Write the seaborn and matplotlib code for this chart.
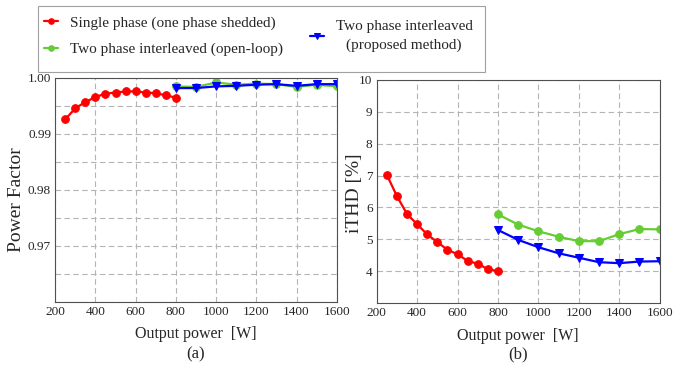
import matplotlib
matplotlib.use("Agg")
import matplotlib.pyplot as plt
from matplotlib.patches import Rectangle
from matplotlib.ticker import MultipleLocator
import seaborn as sns
import pandas as pd


# ------------------------------------------------
# DATA
# ------------------------------------------------

single_power = [250, 300, 350, 400, 450, 500, 550, 600, 650, 700, 750, 800]
two_power = [800, 900, 1000, 1100, 1200, 1300, 1400, 1500, 1600]

single_pf = [0.9926, 0.9946, 0.9957, 0.9966, 0.9972, 0.9974,
             0.9976, 0.9976, 0.9974, 0.9973, 0.9969, 0.9965]
openloop_pf = [0.9985, 0.9984, 0.9992, 0.9988, 0.9990, 0.9989,
               0.9984, 0.9988, 0.9985]
proposed_pf = [0.9982, 0.9982, 0.9985, 0.9986, 0.9988, 0.9989,
               0.9986, 0.9989, 0.9989]

single_thd = [7.02, 6.35, 5.79, 5.47, 5.15, 4.91, 4.67, 4.53, 4.32, 4.23, 4.06, 4.00]
openloop_thd = [5.78, 5.46, 5.25, 5.08, 4.94, 4.94, 5.16, 5.32, 5.31]
proposed_thd = [5.29, 4.98, 4.75, 4.56, 4.42, 4.28, 4.25, 4.30, 4.31]

labels = ["Single phase (one phase shedded)",
          "Two phase interleaved (open-loop)",
          "Two phase interleaved\n(proposed method)"]
colors = ["#ff0000", "#66cc33", "#0000ff"]
markers = ["o", "o", "v"]


# ------------------------------------------------
# STYLE
# ------------------------------------------------

sns.set_theme(style="whitegrid")
plt.rcParams["font.family"] = ["Liberation Serif", "DejaVu Serif"]

fig = plt.figure(figsize=(6.9, 3.75), dpi=100)
ax1 = fig.add_axes([0.080, 0.195, 0.408, 0.597])
ax2 = fig.add_axes([0.546, 0.192, 0.410, 0.595])


def draw_series(ax, xs, ys):
    for x, y, lab, c, m in zip(xs, ys, labels, colors, markers):
        df = pd.DataFrame({"power": x, "value": y})
        sns.lineplot(data=df, x="power", y="value", ax=ax, color=c,
                     marker=m, markersize=5.5, markeredgecolor=c,
                     linewidth=1.6, label=lab, legend=False)


def style_axes(ax):
    ax.set_xlim(200, 1600)
    ax.xaxis.set_major_locator(MultipleLocator(200))
    ax.grid(True, which="both", linestyle=(0, (5, 3)), color="#b4b4b4",
            linewidth=0.8)
    for s in ax.spines.values():
        s.set_color("#505050")
        s.set_linewidth(0.8)
    ax.tick_params(axis="both", which="both", direction="in", length=3,
                   labelsize=9.5, color="#505050", pad=3)
    ax.tick_params(which="minor", length=0)
    ax.set_xlabel("Output power  [W]", fontsize=11.5, labelpad=6)


draw_series(ax1, [single_power, two_power, two_power],
            [single_pf, openloop_pf, proposed_pf])
draw_series(ax2, [single_power, two_power, two_power],
            [single_thd, openloop_thd, proposed_thd])

style_axes(ax1)
ax1.set_ylim(0.96, 1.0)
ax1.yaxis.set_minor_locator(MultipleLocator(0.005))
ax1.set_yticks([0.97, 0.98, 0.99, 1.00])
ax1.set_yticklabels(["0.97", "0.98", "0.99", "1.00"])
ax1.set_ylabel("Power Factor", fontsize=14)
ax1.yaxis.set_label_coords(-0.106, 0.455)

style_axes(ax2)
ax2.set_ylim(3, 10)
ax2.set_yticks([4, 5, 6, 7, 8, 9, 10])
ax2.set_ylabel("iTHD [%]", fontsize=14)
ax2.yaxis.set_label_coords(-0.05, 0.49)

fig.text(0.284, 0.045, "(a)", ha="center", fontsize=12)
fig.text(0.751, 0.045, "(b)", ha="center", fontsize=12)

# legend: two frameless legends inside one drawn box
handles, labs = ax2.get_legend_handles_labels()
common = dict(fontsize=11, frameon=False, handlelength=0.9,
              handletextpad=0.8, borderpad=0, borderaxespad=0)
leg1 = fig.legend(handles[:2], labs[:2], loc="center left",
                  bbox_to_anchor=(0.064, 0.904), labelspacing=0.85, **common)
leg2 = fig.legend(handles[2:], labs[2:], loc="center left",
                  bbox_to_anchor=(0.449, 0.904), **common)
leg2.get_texts()[0].set_multialignment("center")
leg2.get_texts()[0].set_linespacing(1.45)
for lg in (leg1, leg2):
    for h in lg.legend_handles:
        h.set_markersize(4)
fig.patches.append(Rectangle((0.0551, 0.808), 0.648, 0.176,
                             transform=fig.transFigure, fill=False,
                             edgecolor="#a0a0a0", linewidth=0.8))

fig.savefig("out.png", dpi=100)
